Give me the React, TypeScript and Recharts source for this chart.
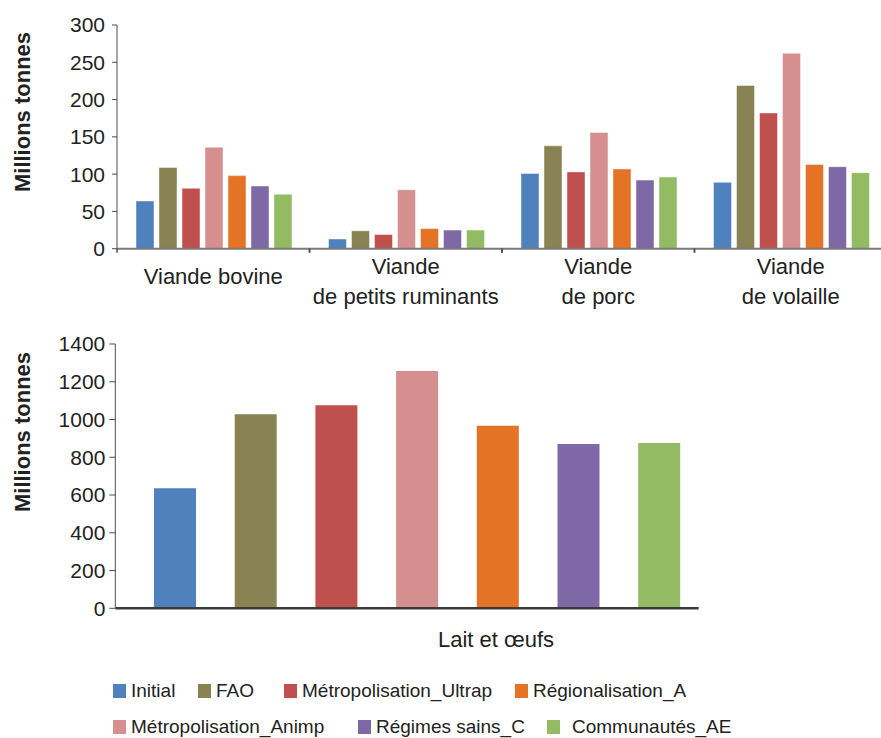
import { BarChart, Bar, XAxis, YAxis } from 'recharts'

const FONT = '"Liberation Sans", Arial, sans-serif'
const TEXT = '#222222'
const AXIS = '#4d4d4d'

// meat groups (top chart)
const meatCategories = ['Viande bovine', 'Viande\nde petits ruminants', 'Viande\nde porc', 'Viande\nde volaille']
const initial = [64, 13, 101, 89]
const fao = [109, 24, 138, 219]
const metroUltrap = [81, 19, 103, 182]
const metroAnimp = [136, 79, 156, 262]
const regionalisation = [98, 27, 107, 113]
const regimesSains = [84, 25, 92, 110]
const communautes = [73, 25, 96, 102]
const meatTicks = [0, 50, 100, 150, 200, 250, 300]

// milk and eggs (bottom chart), in series order
const laitCategory = 'Lait et œufs'
const laitEtOeufs = [636, 1028, 1076, 1257, 967, 870, 875]
const laitTicks = [0, 200, 400, 600, 800, 1000, 1200, 1400]

const series = [
  { key: 'initial', name: 'Initial', color: '#4f81bd', values: initial },
  { key: 'fao', name: 'FAO', color: '#898354', values: fao },
  { key: 'ultrap', name: 'Métropolisation_Ultrap', color: '#c0504d', values: metroUltrap },
  { key: 'animp', name: 'Métropolisation_Animp', color: '#d58f8f', values: metroAnimp },
  { key: 'regio', name: 'Régionalisation_A', color: '#e57325', values: regionalisation },
  { key: 'regimes', name: 'Régimes sains_C', color: '#7f68a6', values: regimesSains },
  { key: 'comm', name: 'Communautés_AE', color: '#92bb63', values: communautes },
]

const meatData = meatCategories.map((cat, i) => {
  const row: Record<string, string | number> = { cat }
  series.forEach(s => { row[s.key] = s.values[i] })
  return row
})

const laitRow: Record<string, string | number> = { cat: laitCategory }
series.forEach((s, i) => { laitRow[s.key] = laitEtOeufs[i] })
const laitData = [laitRow]

const legendRows = [
  [{ i: 0, left: 113 }, { i: 1, left: 198 }, { i: 2, left: 284 }, { i: 4, left: 515 }],
  [{ i: 3, left: 113 }, { i: 5, left: 358 }, { i: 6, left: 547, gap: 12 }],
]

const TOP_W = 888
const TOP_BAND = (TOP_W - 117 - 1) / meatCategories.length

function GroupTick(props: any) {
  const { x, y, payload } = props
  const lines = String(payload.value).split('\n')
  const half = TOP_BAND / 2
  const base = lines.length === 1 ? y + 35.5 : y + 25.5
  return (
    <g>
      <line x1={x - half} x2={x - half} y1={y} y2={y + 4} stroke={AXIS} strokeWidth={1.5} />
      <line x1={x + half} x2={x + half} y1={y} y2={y + 4} stroke={AXIS} strokeWidth={1.5} />
      <text x={x} y={base} textAnchor="middle" fontSize={22} fill={TEXT} fontFamily={FONT}>
        {lines.map((l, k) => (
          <tspan key={k} x={x} dy={k === 0 ? 0 : 30}>{l}</tspan>
        ))}
      </text>
    </g>
  )
}

function LaitTick(props: any) {
  const { x, y, payload } = props
  return (
    <text x={x + 79} y={y + 38.5} textAnchor="middle" fontSize={22} fill={TEXT} fontFamily={FONT}>
      {payload.value}
    </text>
  )
}

const yTick = { fontSize: 21, fill: TEXT, fontFamily: FONT }

function AxisTitle({ top }: { top: number }) {
  return (
    <div
      style={{
        position: 'absolute', left: 23, top, transform: 'translate(-50%, -50%) rotate(-90deg)',
        fontWeight: 'bold', fontSize: 22, color: TEXT, whiteSpace: 'nowrap',
      }}
    >
      Millions tonnes
    </div>
  )
}

export default function App() {
  return (
    <div style={{ position: 'absolute', left: 0, top: 0, width: 881, height: 738, overflow: 'hidden', background: '#fff', fontFamily: FONT }}>
      <div style={{ position: 'absolute', left: 0, top: 0 }}>
        <BarChart width={TOP_W} height={320} data={meatData} margin={{ top: 25, right: 1, bottom: 0, left: 0 }}
          barCategoryGap={19} barGap={5}>
          <XAxis dataKey="cat" height={71.3} tickSize={0} tickMargin={0} tickLine={false} interval={0}
            axisLine={{ stroke: '#7a7a7a', strokeWidth: 2 }} tick={GroupTick} />
          <YAxis width={117} domain={[0, 300]} ticks={meatTicks} interval={0} tickSize={5} tickMargin={7}
            axisLine={{ stroke: AXIS }} tickLine={{ stroke: AXIS }} tick={yTick} />
          {series.map(s => (
            <Bar key={s.key} dataKey={s.key} name={s.name} fill={s.color} stroke="#ffffff" strokeOpacity={0.45} strokeWidth={1} isAnimationActive={false} />
          ))}
        </BarChart>
      </div>
      <AxisTitle top={112} />

      <div style={{ position: 'absolute', left: 0, top: 320 }}>
        <BarChart width={700} height={348.3} data={laitData} margin={{ top: 24, right: 1.3, bottom: 0, left: 0 }}
          barCategoryGap={18.7} barGap={38.7}>
          <XAxis dataKey="cat" height={60} tickSize={0} tickMargin={0} tickLine={false} padding={{ left: 20, right: 0 }}
            axisLine={{ stroke: '#3a3a3a', strokeWidth: 2.5 }} tick={LaitTick} />
          <YAxis width={115.3} domain={[0, 1400]} ticks={laitTicks} interval={0} tickSize={6} tickMargin={4}
            axisLine={{ stroke: AXIS }} tickLine={{ stroke: AXIS }} tick={yTick} />
          {series.map(s => (
            <Bar key={s.key} dataKey={s.key} name={s.name} fill={s.color} isAnimationActive={false} />
          ))}
        </BarChart>
      </div>
      <AxisTitle top={432} />

      {legendRows.map((row, r) => row.map(item => {
        const s = series[item.i]
        return (
          <div key={s.key} style={{ position: 'absolute', left: item.left, top: 680 + r * 36, display: 'flex', alignItems: 'center', fontSize: 19, lineHeight: '22px', color: TEXT, whiteSpace: 'nowrap' }}>
            <span style={{ display: 'inline-block', width: 13, height: 14, background: s.color, marginRight: item.gap ?? 5 }} />
            <span>{s.name}</span>
          </div>
        )
      }))}
    </div>
  )
}
